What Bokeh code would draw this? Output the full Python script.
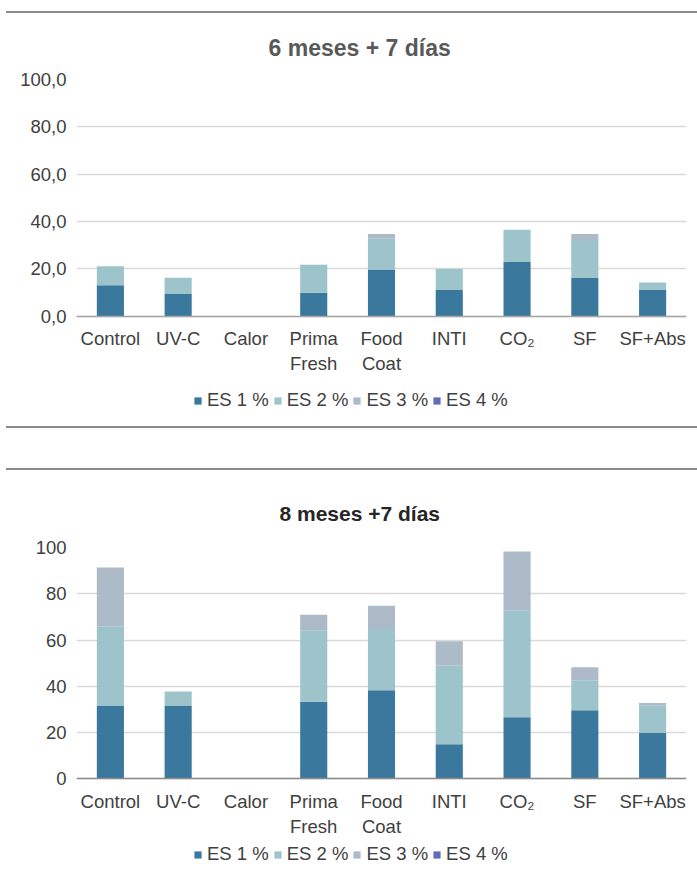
from bokeh.plotting import figure
from bokeh.layouts import column
from bokeh.models import Div, Legend, LegendItem, FixedTicker, Range1d, ColumnDataSource
from bokeh.embed import file_html
from bokeh.resources import INLINE

# Treatments (x categories) and defect classes (stack layers)
treatments = ["Control", "UV-C", "Calor", "Prima\nFresh", "Food\nCoat", "INTI", "CO₂", "SF", "SF+Abs"]
series = ["ES 1 %", "ES 2 %", "ES 3 %", "ES 4 %"]
colors = ["#3A789E", "#9CC4CA", "#ADBAC7", "#5F6DB8"]

# 6 meses + 7 días
es1_6m = [13.0, 9.3, 0.0, 9.9, 19.7, 11.0, 22.8, 16.1, 11.0]
es2_6m = [8.1, 6.9, 0.0, 11.8, 13.0, 8.9, 13.7, 15.6, 3.2]
es3_6m = [0.0, 0.0, 0.0, 0.0, 2.0, 0.0, 0.0, 3.0, 0.0]
es4_6m = [0.0, 0.0, 0.0, 0.0, 0.0, 0.0, 0.0, 0.0, 0.0]

# 8 meses + 7 días
es1_8m = [31.7, 31.7, 0.0, 33.4, 38.3, 15.0, 26.7, 29.7, 19.9]
es2_8m = [34.3, 6.1, 0.0, 30.9, 26.5, 34.0, 46.2, 13.0, 11.9]
es3_8m = [25.4, 0.0, 0.0, 6.7, 10.0, 10.5, 25.4, 5.6, 1.0]
es4_8m = [0.0, 0.0, 0.0, 0.0, 0.0, 0.0, 0.0, 0.0, 0.0]

# y tick positions and their labels
ticks = [0, 20, 40, 60, 80, 100]
tick_labels_6m = ["0,0", "20,0", "40,0", "60,0", "80,0", "100,0"]
tick_labels_8m = ["0", "20", "40", "60", "80", "100"]

FONT = "Liberation Sans"
TEXT = "#404040"
SIZE = "18.5px"


def make_chart(title, title_color, title_size, layers, tick_labels, height, top, y_floor,
               axis_color, legend_loc, title_offset, title_standoff):
    data = {"x": treatments}
    for name, vals in zip(series, layers):
        data[name] = vals
    src = ColumnDataSource(data)

    # the frame reaches down to the legend; the category axis sits at y = 0
    p = figure(x_range=treatments, y_range=Range1d(y_floor, 100), width=697, height=height,
               output_backend="svg", toolbar_location=None, tools="",
               min_border_left=76, min_border_right=11,
               min_border_top=top, min_border_bottom=0)
    p.outline_line_color = None
    p.background_fill_color = "white"
    p.border_fill_color = "white"

    p.title.text = title
    p.title.align = "left"
    p.title.offset = title_offset
    p.title.standoff = title_standoff
    p.title.text_font = FONT
    p.title.text_font_size = title_size
    p.title.text_font_style = "bold"
    p.title.text_color = title_color

    rs = p.vbar_stack(series, x="x", width=0.4, color=colors, line_color=None, source=src)

    p.yaxis.ticker = FixedTicker(ticks=ticks)
    p.yaxis.major_label_overrides = {t: lab for t, lab in zip(ticks, tick_labels)}
    p.yaxis.axis_line_color = None
    p.yaxis.major_tick_line_color = None
    p.yaxis.minor_tick_line_color = None
    p.yaxis.major_label_standoff = 4
    p.yaxis.major_label_text_font = FONT
    p.yaxis.major_label_text_font_size = SIZE
    p.yaxis.major_label_text_color = TEXT

    p.xaxis.fixed_location = 0
    p.xaxis.axis_line_color = axis_color
    p.xaxis.axis_line_width = 1.5
    p.xaxis.major_tick_line_color = None
    p.xaxis.minor_tick_line_color = None
    p.xaxis.major_label_standoff = 6
    p.xaxis.major_label_text_font = FONT
    p.xaxis.major_label_text_font_size = SIZE
    p.xaxis.major_label_text_color = TEXT

    p.xgrid.grid_line_color = None
    p.ygrid.grid_line_color = "#d9d9d9"
    p.ygrid.grid_line_width = 1.5

    legend = Legend(items=[LegendItem(label=s, renderers=[r]) for s, r in zip(series, rs)],
                    orientation="horizontal", location=legend_loc,
                    glyph_width=9, glyph_height=9, label_standoff=5, spacing=4,
                    padding=0, margin=0, border_line_color=None,
                    background_fill_alpha=0,
                    label_text_font=FONT, label_text_font_size=SIZE, label_text_color=TEXT,
                    label_height=20)
    p.add_layout(legend)
    return p


def rule():
    return Div(text="", width=691, height=2, margin=(0, 0, 0, 6),
               styles={"background-color": "#8c8c8c"})


def gap(h):
    return Div(text="", width=697, height=h, margin=0)


p1 = make_chart("6 meses + 7 días", "#595959", "23px", [es1_6m, es2_6m, es3_6m, es4_6m],
                tick_labels_6m, 413, 66, -46.7, "#a6a6a6", (117, 15), 192, 38)
p2 = make_chart("8 meses +7 días", "#262626", "21px", [es1_8m, es2_8m, es3_8m, es4_8m],
                tick_labels_8m, 408, 77, -43.0, "#8c8c8c", (117, 13), 203, 46)

page = column(gap(11), rule(), p1, rule(), gap(40), rule(), p2, spacing=0)

open("out.html", "w").write(file_html(page, INLINE))
